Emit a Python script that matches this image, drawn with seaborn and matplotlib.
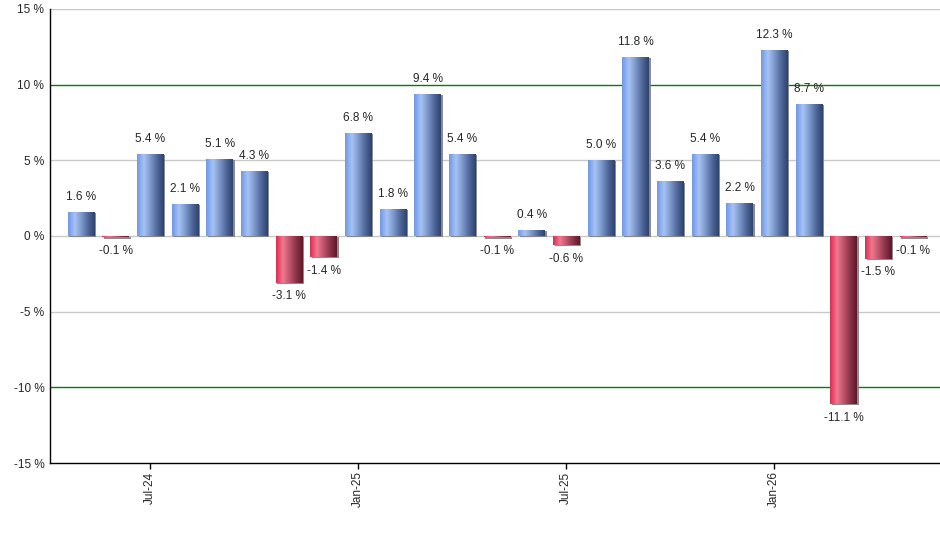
import numpy as np
import pandas as pd
import seaborn as sns
import matplotlib.pyplot as plt
import matplotlib.patheffects as pe
from matplotlib.colors import LinearSegmentedColormap

# monthly returns, May-24 .. May-26
months = ['May-24', 'Jun-24', 'Jul-24', 'Aug-24', 'Sep-24', 'Oct-24', 'Nov-24', 'Dec-24',
          'Jan-25', 'Feb-25', 'Mar-25', 'Apr-25', 'May-25', 'Jun-25', 'Jul-25', 'Aug-25',
          'Sep-25', 'Oct-25', 'Nov-25', 'Dec-25', 'Jan-26', 'Feb-26', 'Mar-26', 'Apr-26',
          'May-26']
returns = [1.6, -0.1, 5.4, 2.1, 5.1, 4.3, -3.1, -1.4, 6.8, 1.8, 9.4, 5.4, -0.1, 0.4,
           -0.6, 5.0, 11.8, 3.6, 5.4, 2.2, 12.3, 8.7, -11.1, -1.5, -0.1]
shown_ticks = ['Jul-24', 'Jan-25', 'Jul-25', 'Jan-26']
y_ticks = [-15, -10, -5, 0, 5, 10, 15]

df = pd.DataFrame({'month': months, 'ret': returns})

sns.set_style('white')
plt.rcParams['font.family'] = ['Liberation Sans', 'DejaVu Sans']

fig = plt.figure(figsize=(9.4, 5.5), dpi=100)
ax = fig.add_axes([0.053, 0.158, 0.947, 0.826])

ax = sns.barplot(data=df, x='month', y='ret', color='#7a9fe6', width=0.77,
                 saturation=1, linewidth=0, ax=ax, zorder=3)

# gradient fill for bars
blue_cm = LinearSegmentedColormap.from_list('b', ['#6e98ea', '#a8c3f3', '#7d99cc', '#50689c', '#2f4368'])
red_cm = LinearSegmentedColormap.from_list('r', ['#e02a52', '#f07a90', '#c0566c', '#8a3448', '#5e1a2a'])
grad = np.linspace(0, 1, 64).reshape(1, -1)
for p, v in zip(ax.patches, returns):
    x0, y0 = p.get_x(), p.get_y()
    w, h = p.get_width(), p.get_height()
    p.set_linewidth(0)
    p.set_path_effects([pe.SimplePatchShadow(offset=(1.2, -0.8), shadow_rgbFace='#808080', alpha=0.9), pe.Normal()])
    im = ax.imshow(grad, cmap=blue_cm if v >= 0 else red_cm, aspect='auto',
                   extent=(x0, x0 + w, min(y0, y0 + h), max(y0, y0 + h)), zorder=4)
    im.set_clip_path(p)
    # value labels
    if v >= 0:
        ax.text(p.get_x() + w / 2, v + 0.6, f'{v:.1f} %', ha='center', va='bottom', fontsize=8.5, zorder=5)
    else:
        ax.text(p.get_x() + w / 2, v - 0.5, f'{v:.1f} %', ha='center', va='top', fontsize=8.5, zorder=5)

ax.set_xlim(-0.9, len(months) - 0.22)
ax.set_ylim(-15, 15)

for yv in [15, 5, 0, -5]:
    ax.axhline(yv, color='#c8c8c8', lw=1, zorder=1)
ax.axhline(10, color='#008000', lw=1, zorder=2)
ax.axhline(-10, color='#008000', lw=1, zorder=2)

ax.set_yticks(y_ticks)
ax.set_yticklabels([f'{t} %' for t in y_ticks], fontsize=8.5)
tick_pos = [months.index(m) for m in shown_ticks]
ax.set_xticks(tick_pos)
ax.set_xticklabels(shown_ticks, rotation=90, fontsize=8.5)
ax.tick_params(axis='x', length=4, width=1, color='black', bottom=True, pad=2)
ax.tick_params(axis='y', length=0, pad=4)
ax.set_xlabel('')
ax.set_ylabel('')

sns.despine(ax=ax, top=True, right=True)
for s in ['left', 'bottom']:
    ax.spines[s].set_color('black')
    ax.spines[s].set_linewidth(1)
    ax.spines[s].set_zorder(6)

plt.savefig('out.png', dpi=100)
